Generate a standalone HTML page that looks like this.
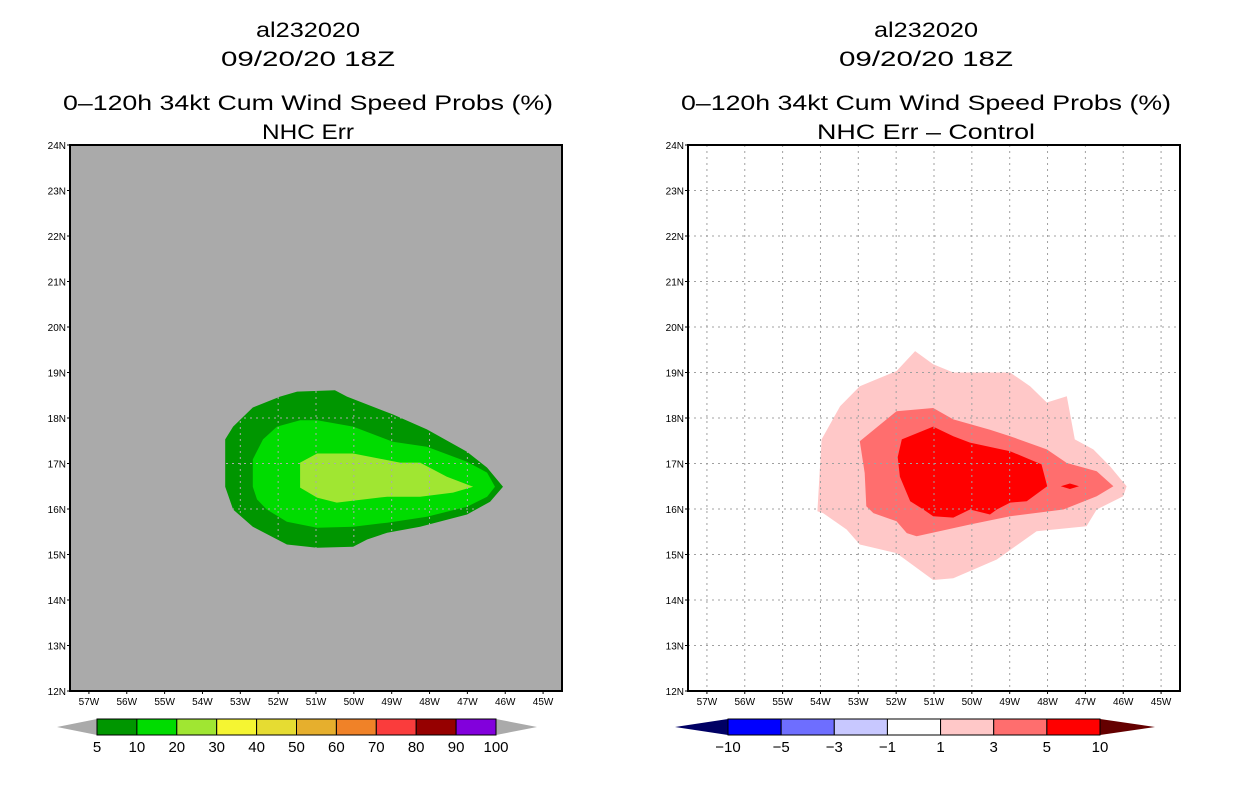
<!DOCTYPE html>
<html><head><meta charset="utf-8">
<style>
body{margin:0;background:#fff;width:1236px;height:800px;overflow:hidden}
svg{display:block}
text{font-family:"Liberation Sans",sans-serif;fill:#000}
</style></head><body>
<svg id="chart" width="1236" height="800" xmlns="http://www.w3.org/2000/svg">
<g font-size="21" text-anchor="middle">
<text x="308" y="37" textLength="104" lengthAdjust="spacingAndGlyphs">al232020</text><text x="308" y="66" textLength="174" lengthAdjust="spacingAndGlyphs">09/20/20 18Z</text>
<text x="308" y="110" textLength="490" lengthAdjust="spacingAndGlyphs">0–120h 34kt Cum Wind Speed Probs (%)</text><text x="308" y="139" textLength="92" lengthAdjust="spacingAndGlyphs">NHC Err</text></g>
<g font-size="21" text-anchor="middle">
<text x="926" y="37" textLength="104" lengthAdjust="spacingAndGlyphs">al232020</text><text x="926" y="66" textLength="174" lengthAdjust="spacingAndGlyphs">09/20/20 18Z</text>
<text x="926" y="110" textLength="490" lengthAdjust="spacingAndGlyphs">0–120h 34kt Cum Wind Speed Probs (%)</text><text x="926" y="139" textLength="218" lengthAdjust="spacingAndGlyphs">NHC Err – Control</text></g>
<g id="left"></g>
<g id="right"></g>
<g id="cbl"></g>
<g id="cbr"></g>
</svg>
<script>
// lon given as degrees West, lat degrees North
const lonTicks=[57,56,55,54,53,52,51,50,49,48,47,46,45];
const latTicks=[12,13,14,15,16,17,18,19,20,21,22,23,24];
const probOuter=[[53.4,17.53],[53.19,17.81],[52.67,18.23],[51.95,18.47],[51.5,18.58],[50.5,18.61],[50.18,18.47],[48.97,18.08],[48.07,17.75],[47.01,17.26],[46.48,16.91],[46.06,16.49],[46.4,16.16],[47.01,15.88],[48.25,15.61],[49.12,15.48],[49.65,15.33],[50.02,15.17],[50.97,15.15],[51.77,15.22],[52.67,15.61],[53.19,15.99],[53.4,16.49]];
const probMid=[[52.67,16.49],[52.67,17.09],[52.4,17.53],[52.03,17.81],[51.42,17.95],[50.97,17.95],[50.02,17.81],[48.97,17.48],[48.07,17.37],[47.01,17.04],[46.48,16.8],[46.27,16.49],[46.48,16.27],[47.01,16.05],[48.07,15.83],[49.12,15.7],[50.02,15.61],[50.97,15.59],[51.77,15.72],[52.3,15.99],[52.56,16.21]];
const probInner=[[51.42,17.02],[50.97,17.22],[50.02,17.22],[48.78,17.02],[48.25,17.02],[47.54,16.71],[46.85,16.49],[47.38,16.36],[48.25,16.27],[49.12,16.27],[50.45,16.14],[50.97,16.25],[51.42,16.47]];
const diffOuter=[[54.08,15.95],[53.97,17.53],[53.48,18.26],[52.96,18.7],[51.99,19.03],[51.5,19.47],[51.02,19.18],[50.49,19.0],[48.99,19.0],[48.46,18.7],[48.02,18.34],[47.49,18.48],[47.28,17.53],[46.79,17.31],[46.35,16.94],[45.91,16.5],[46.0,16.28],[46.7,15.99],[46.97,15.62],[48.29,15.51],[49.34,14.89],[50.49,14.48],[51.02,14.44],[51.99,15.03],[52.96,15.22],[53.31,15.55],[53.93,15.91]];
const diffMid=[[52.96,17.49],[51.99,18.15],[51.02,18.22],[50.49,17.97],[49.52,17.74],[48.99,17.6],[48.02,17.31],[47.49,17.01],[46.7,16.83],[46.26,16.5],[46.7,16.28],[47.58,15.99],[48.99,15.84],[50.05,15.66],[51.46,15.4],[51.72,15.47],[51.99,15.73],[52.6,15.91],[52.79,16.06],[52.83,16.79]];
const diffInner=[[51.85,17.53],[51.02,17.81],[50.49,17.6],[50.05,17.46],[48.99,17.27],[48.16,16.98],[48.01,16.5],[48.55,16.17],[48.99,16.14],[49.34,15.99],[49.52,15.88],[50.05,15.99],[50.49,15.81],[51.02,15.84],[51.28,15.99],[51.63,16.17],[51.9,16.71],[51.96,17.14]];
const diffPeak=[[47.65,16.5],[47.41,16.56],[47.17,16.5],[47.41,16.44]];
const probLevels=["5","10","20","30","40","50","60","70","80","90","100"];
const probColors=["#009600","#00dc00","#a0e632","#f5f532","#e6dc32","#e6af2d","#f08228","#fa3c3c","#960000","#8200dc"];
const diffLevels=["−10","−5","−3","−1","1","3","5","10"];
const diffColors=["#0000ff","#6e6eff","#c8c8ff","#ffffff","#ffc8c8","#ff6e6e","#ff0000"];

const NS="http://www.w3.org/2000/svg";
function mk(p,t,a){const e=document.createElementNS(NS,t);for(const k in a)e.setAttribute(k,a[k]);p.appendChild(e);return e;}
const W=492,H=546,TOP=145,LON0=57.5,LON1=44.5,LAT0=12,LAT1=24;
function xs(ox,lon){return ox+(LON0-lon)/(LON0-LON1)*W;}
function ys(lat){return TOP+(LAT1-lat)/(LAT1-LAT0)*H;}
function poly(g,ox,arr,fill,name){
  const pts=arr.map(p=>xs(ox,p[0]).toFixed(1)+","+ys(p[1]).toFixed(1)).join(" ");
  const e=mk(g,"polygon",{points:pts,fill:fill});
  
  
}
function panel(id,ox,bg,layers,gridCol){
  const g=document.getElementById(id);
  const r=mk(g,"rect",{x:ox,y:TOP,width:W,height:H,fill:bg});
  
  
  layers.forEach(l=>poly(g,ox,l[0],l[1],l[2]));
  lonTicks.forEach(lon=>{const x=xs(ox,lon);
    const ln=mk(g,"line",{x1:x,x2:x,y1:TOP,y2:TOP+H,stroke:gridCol,"stroke-width":1,"stroke-dasharray":"2,4"});
    
    
    mk(g,"line",{x1:x,x2:x,y1:TOP+H,y2:TOP+H+3,stroke:"#000"});
    const t=mk(g,"text",{x:x,y:TOP+H+14,"font-size":10,"text-anchor":"middle"});t.textContent=lon+"W";
    
    
  });
  latTicks.forEach(lat=>{const y=ys(lat);
    if(lat>12&&lat<24){const ln=mk(g,"line",{x1:ox,x2:ox+W,y1:y,y2:y,stroke:gridCol,"stroke-width":1,"stroke-dasharray":"2,4"});
    
    }
    mk(g,"line",{x1:ox-3,x2:ox,y1:y,y2:y,stroke:"#000"});
    const t=mk(g,"text",{x:ox-4,y:y+4,"font-size":10,"text-anchor":"end"});t.textContent=lat+"N";
    
    
  });
  const f=mk(g,"rect",{x:ox,y:TOP,width:W,height:H,fill:"none",stroke:"#000","stroke-width":2});
  
  
}
panel("left",70,"#aaaaaa",[[probOuter,probColors[0],"contour-5"],[probMid,probColors[1],"contour-10"],[probInner,probColors[2],"contour-20"]],"#aaaaaa");
panel("right",688,"#ffffff",[[diffOuter,diffColors[4],"contour-1"],[diffMid,diffColors[5],"contour-3"],[diffInner,diffColors[6],"contour-5"],[diffPeak,diffColors[6],"contour-peak"]],"#a0a0a0");

function colorbar(id,x0,x1,tipL,tipR,colors,labels,triL,triR){
  const g=document.getElementById(id);const y0=719,y1=735,n=colors.length,bw=(x1-x0)/n;
  const a=mk(g,"polygon",{points:`${tipL},727 ${x0},${y0} ${x0},${y1}`,fill:triL});
  
  
  const b=mk(g,"polygon",{points:`${tipR},727 ${x1},${y0} ${x1},${y1}`,fill:triR});
  
  
  colors.forEach((c,i)=>{const r=mk(g,"rect",{x:x0+i*bw,y:y0,width:bw,height:y1-y0,fill:c,stroke:"#000","stroke-width":1});
    
    });
  labels.forEach((l,i)=>{const t=mk(g,"text",{x:x0+i*bw,y:752,"font-size":15,"text-anchor":"middle"});t.textContent=l;
    
    });
}
colorbar("cbl",97,496,57,537,probColors,probLevels,"#aaaaaa","#aaaaaa");
colorbar("cbr",728,1100,675,1155,diffColors,diffLevels,"#000064","#640000");
</script>
</body></html>
